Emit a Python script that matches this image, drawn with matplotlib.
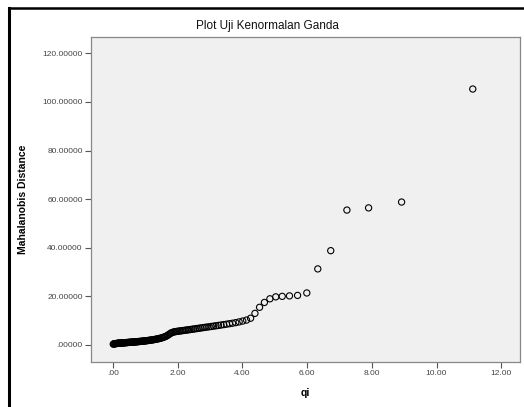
import matplotlib
matplotlib.use('Agg')
import matplotlib.pyplot as plt
from matplotlib.lines import Line2D

plt.rcParams['font.family'] = ['Liberation Sans', 'DejaVu Sans']

# qi (chi-square quantiles) and sorted Mahalanobis distances
qi = [0.008, 0.024, 0.040, 0.056, 0.072, 0.088, 0.104, 0.120, 0.136, 0.152,
      0.169, 0.186, 0.203, 0.220, 0.238, 0.255, 0.272, 0.290, 0.307, 0.325,
      0.343, 0.362, 0.380, 0.399, 0.418, 0.437, 0.456, 0.476, 0.495, 0.515,
      0.535, 0.556, 0.576, 0.597, 0.617, 0.638, 0.659, 0.681, 0.702, 0.724,
      0.746, 0.769, 0.791, 0.814, 0.837, 0.861, 0.885, 0.909, 0.934, 0.959,
      0.984, 1.009, 1.035, 1.061, 1.087, 1.114, 1.141, 1.168, 1.196, 1.224,
      1.252, 1.281, 1.311, 1.340, 1.370, 1.401, 1.432, 1.464, 1.497, 1.530,
      1.563, 1.597, 1.632, 1.667, 1.703, 1.740, 1.777, 1.815, 1.853, 1.891,
      1.931, 1.972, 2.013, 2.055, 2.098, 2.142, 2.187, 2.234, 2.283, 2.333,
      2.384, 2.436, 2.489, 2.543, 2.599, 2.657, 2.716, 2.777, 2.838, 2.900,
      2.968, 3.037, 3.109, 3.183, 3.258, 3.338, 3.422, 3.509, 3.599, 3.694,
      3.794, 3.899, 4.011, 4.128, 4.253,
      4.387, 4.53, 4.68, 4.85, 5.03, 5.23, 5.455, 5.705, 5.99, 6.33,
      6.73, 7.23, 7.90, 8.92, 11.12]

mahal = [0.35, 0.42, 0.48, 0.52, 0.55, 0.58, 0.61, 0.64, 0.66, 0.69,
         0.71, 0.73, 0.75, 0.77, 0.79, 0.81, 0.83, 0.85, 0.87, 0.89,
         0.91, 0.93, 0.95, 0.97, 0.99, 1.01, 1.03, 1.05, 1.07, 1.09,
         1.11, 1.13, 1.15, 1.18, 1.20, 1.22, 1.25, 1.27, 1.30, 1.32,
         1.35, 1.38, 1.41, 1.44, 1.47, 1.50, 1.53, 1.56, 1.60, 1.64,
         1.68, 1.72, 1.76, 1.80, 1.85, 1.90, 1.95, 2.00, 2.06, 2.12,
         2.18, 2.25, 2.32, 2.40, 2.48, 2.57, 2.67, 2.78, 2.90, 3.03,
         3.18, 3.35, 3.55, 3.80, 4.10, 4.45, 4.80, 5.05, 5.25, 5.40,
         5.50, 5.58, 5.66, 5.74, 5.82, 5.90, 5.98, 6.07, 6.16, 6.25,
         6.35, 6.45, 6.55, 6.66, 6.77, 6.88, 7.00, 7.12, 7.24, 7.36,
         7.48, 7.61, 7.75, 7.90, 8.05, 8.21, 8.38, 8.56, 8.75, 8.95,
         9.20, 9.50, 9.85, 10.25, 11.00,
         13.0, 15.5, 17.5, 19.0, 19.8, 20.0, 20.2, 20.4, 21.4, 31.3,
         38.8, 55.5, 56.4, 58.8, 105.3]

xticks = [0, 2, 4, 6, 8, 10, 12]
xtick_labels = ['.00', '2.00', '4.00', '6.00', '8.00', '10.00', '12.00']
yticks = [0, 20, 40, 60, 80, 100, 120]
ytick_labels = ['.00000', '20.00000', '40.00000', '60.00000', '80.00000',
                '100.00000', '120.00000']

W, H = 524, 407
fig = plt.figure(figsize=(W / 100, H / 100), dpi=100)
ax = fig.add_axes([91 / W, 1 - 362 / H, (520 - 91) / W, (362 - 37) / H])
ax.set_facecolor('#f0f0f0')

ax.scatter(qi, mahal, s=20, facecolors='none', edgecolors='black',
           linewidths=0.8)

ax.set_xlim(-0.68, 12.58)
ax.set_ylim(-7.0, 126.7)
ax.set_xticks(xticks)
ax.set_xticklabels(xtick_labels)
ax.set_yticks(yticks)
ax.set_yticklabels(ytick_labels)
ax.tick_params(axis='both', direction='out', length=4, width=0.8,
               colors='#555555', labelsize=6, labelcolor='#444444', pad=2)

for s in ax.spines.values():
    s.set_color('#888888')
    s.set_linewidth(0.9)

ax.set_xlabel('qi', fontsize=7.5, fontweight='bold', labelpad=8)
ax.set_ylabel('Mahalanobis Distance', fontsize=7.5, fontweight='bold',
              labelpad=10)

fig.text(267 / W, 1 - 26 / H, 'Plot Uji Kenormalan Ganda', fontsize=8.5,
         ha='center', va='center', color='#111111')

# black frame lines at top and left of the picture
fig.add_artist(Line2D([9 / W, 1], [1 - 8 / H, 1 - 8 / H], color='black',
                      linewidth=1.8, transform=fig.transFigure))
fig.add_artist(Line2D([9 / W, 9 / W], [0, 1 - 8 / H], color='black',
                      linewidth=2.2, transform=fig.transFigure))

fig.savefig('out.png', dpi=100)
